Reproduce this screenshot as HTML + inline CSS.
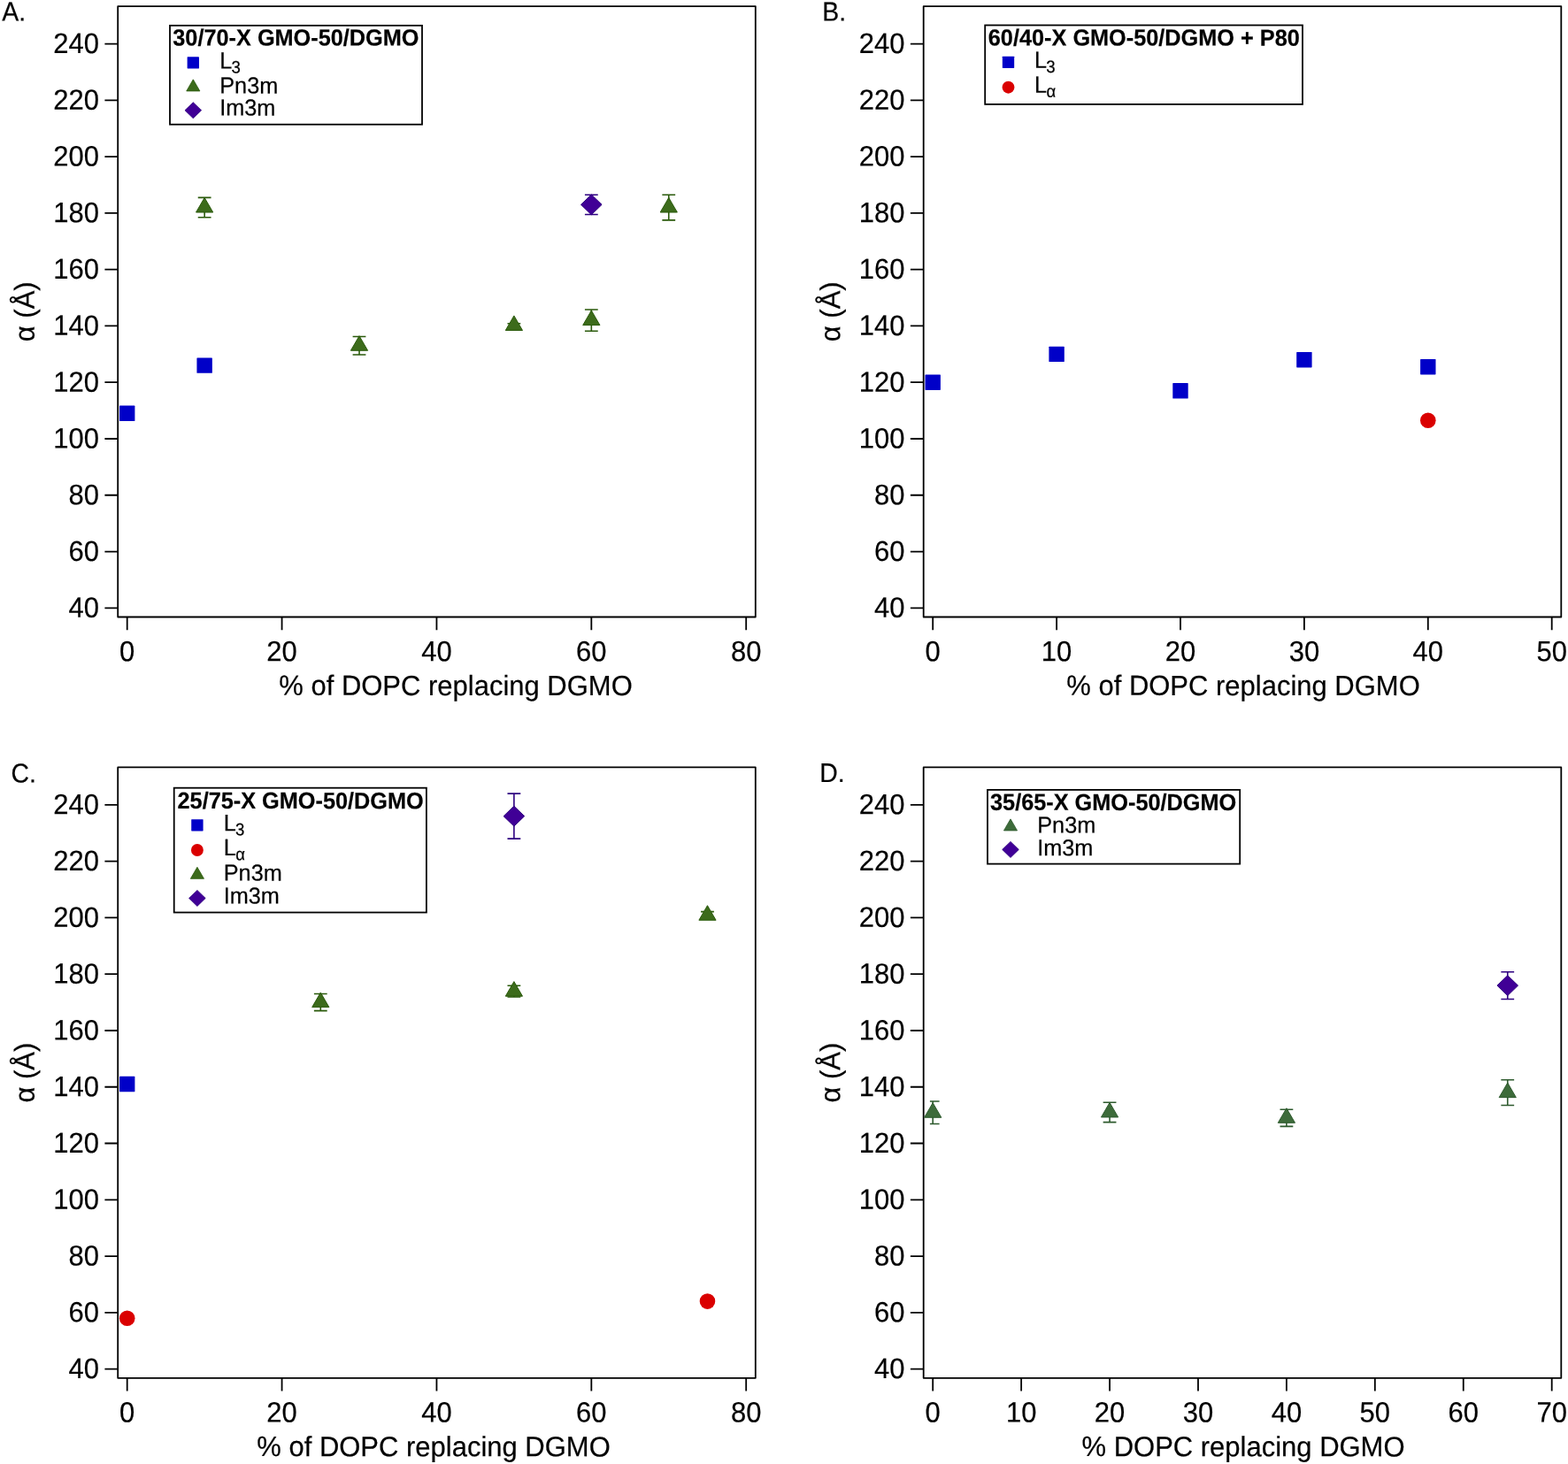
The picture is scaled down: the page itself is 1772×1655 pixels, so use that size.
<!DOCTYPE html>
<html lang="en">
<head>
<meta charset="utf-8">
<title>Lattice parameter vs. % DOPC replacing DGMO</title>
<style>
html,body{margin:0;padding:0;background:#fff;}
body{width:1772px;height:1655px;overflow:hidden;}
svg{display:block;}
text{font-family:'Liberation Sans', sans-serif;fill:#000;stroke:#000;stroke-width:0.2px;stroke-linejoin:round;}
</style>
</head>
<body>
<svg width="1772" height="1655" viewBox="0 0 1772 1655" role="img" aria-label="Lattice parameter versus percent DOPC replacing DGMO, panels A to D">
<rect width="1772" height="1655" fill="#fff"/>
<g id="panel-a">
<rect x="133.2" y="7.1" width="720.6" height="690.4" fill="none" stroke="#000" stroke-width="1.8" stroke-linejoin="round"/>
<path d="M133.2 687.3h-14.8M133.2 623.53h-14.8M133.2 559.76h-14.8M133.2 495.99h-14.8M133.2 432.22h-14.8M133.2 368.45h-14.8M133.2 304.68h-14.8M133.2 240.91h-14.8M133.2 177.14h-14.8M133.2 113.37h-14.8M133.2 49.6h-14.8M143.7 697.5v14.8M318.57 697.5v14.8M493.45 697.5v14.8M668.33 697.5v14.8M843.2 697.5v14.8" stroke="#000" stroke-width="1.8" fill="none"/>
<text transform="matrix(1 0.0008 0 1.04 112 60.05)" font-size="31" text-anchor="end">240</text>
<text transform="matrix(1 0.0008 0 1.04 112 123.82)" font-size="31" text-anchor="end">220</text>
<text transform="matrix(1 0.0008 0 1.04 112 187.59)" font-size="31" text-anchor="end">200</text>
<text transform="matrix(1 0.0008 0 1.04 112 251.36)" font-size="31" text-anchor="end">180</text>
<text transform="matrix(1 0.0008 0 1.04 112 315.13)" font-size="31" text-anchor="end">160</text>
<text transform="matrix(1 0.0008 0 1.04 112 378.9)" font-size="31" text-anchor="end">140</text>
<text transform="matrix(1 0.0008 0 1.04 112 442.67)" font-size="31" text-anchor="end">120</text>
<text transform="matrix(1 0.0008 0 1.04 112 506.44)" font-size="31" text-anchor="end">100</text>
<text transform="matrix(1 0.0008 0 1.04 112 570.21)" font-size="31" text-anchor="end">80</text>
<text transform="matrix(1 0.0008 0 1.04 112 633.98)" font-size="31" text-anchor="end">60</text>
<text transform="matrix(1 0.0008 0 1.04 112 697.75)" font-size="31" text-anchor="end">40</text>
<text transform="matrix(1 0.0008 0 1.04 143.7 747.2)" font-size="31" text-anchor="middle">0</text>
<text transform="matrix(1 0.0008 0 1.04 318.57 747.2)" font-size="31" text-anchor="middle">20</text>
<text transform="matrix(1 0.0008 0 1.04 493.45 747.2)" font-size="31" text-anchor="middle">40</text>
<text transform="matrix(1 0.0008 0 1.04 668.33 747.2)" font-size="31" text-anchor="middle">60</text>
<text transform="matrix(1 0.0008 0 1.04 843.2 747.2)" font-size="31" text-anchor="middle">80</text>
<text transform="matrix(1 0.0008 0 1.03 515 785.95)" font-size="31" text-anchor="middle">% of DOPC replacing DGMO</text>
<text transform="matrix(0.0008 -1 1.03 0.0008 38.7 352.3)" font-size="31" text-anchor="middle">α (Å)</text>
<text transform="matrix(1 0.0008 0 1.07 2.2 23.6)" font-size="28.4">A.</text>
<rect x="135" y="458.59" width="17.4" height="17.4" rx="0.6" fill="#0000C8"/>
<rect x="222.44" y="404.39" width="17.4" height="17.4" rx="0.6" fill="#0000C8"/>
<path d="M231.14 223.37V245.69M223.74 223.37H238.54M223.74 245.69H238.54" stroke="#2A5A0B" stroke-width="1.6" fill="none"/>
<polygon points="231.14,223.48 240.74,240.03 221.54,240.03" fill="#3C6B1B" stroke="#2A5A0B" stroke-width="1" stroke-linejoin="miter"/>
<path d="M406.01 380.57V400.97M398.61 380.57H413.41M398.61 400.97H413.41" stroke="#2A5A0B" stroke-width="1.6" fill="none"/>
<polygon points="406.01,379.72 415.61,396.27 396.41,396.27" fill="#3C6B1B" stroke="#2A5A0B" stroke-width="1" stroke-linejoin="miter"/>
<path d="M580.89 365.74V370.2M573.49 365.74H588.29M573.49 370.2H588.29" stroke="#2A5A0B" stroke-width="1.6" fill="none"/>
<polygon points="580.89,356.92 590.49,373.47 571.29,373.47" fill="#3C6B1B" stroke="#2A5A0B" stroke-width="1" stroke-linejoin="miter"/>
<path d="M668.33 349.96V374.19M660.93 349.96H675.73M660.93 374.19H675.73" stroke="#2A5A0B" stroke-width="1.6" fill="none"/>
<polygon points="668.33,351.02 677.93,367.57 658.73,367.57" fill="#3C6B1B" stroke="#2A5A0B" stroke-width="1" stroke-linejoin="miter"/>
<path d="M755.76 220.18V248.88M748.36 220.18H763.16M748.36 248.88H763.16" stroke="#2A5A0B" stroke-width="1.6" fill="none"/>
<polygon points="755.76,223.48 765.36,240.03 746.16,240.03" fill="#3C6B1B" stroke="#2A5A0B" stroke-width="1" stroke-linejoin="miter"/>
<path d="M668.33 220.18V242.5M660.93 220.18H675.73M660.93 242.5H675.73" stroke="#2E0080" stroke-width="1.6" fill="none"/>
<polygon points="668.33,219.94 680.12,231.34 668.33,242.74 656.53,231.34" fill="#400096" stroke="#2E0080" stroke-width="1" stroke-linejoin="miter"/>
<rect x="192" y="28.85" width="285" height="111.85" fill="#fff" stroke="#000" stroke-width="1.8"/>
<text transform="matrix(1 0.0008 0 1.04 195.3 51.4)" font-size="25.3" font-weight="bold">30/70-X GMO-50/DGMO</text>
<rect x="211.63" y="64.23" width="13.35" height="13.35" rx="0.47" fill="#0000C8"/>
<text transform="matrix(1 0.0008 0 1.045 248.2 77.4)" font-size="25.3">L<tspan font-size="18.6" dx="-0.8" dy="4.88">3</tspan></text>
<polygon points="218.3,89.87 225.88,102.94 210.72,102.94" fill="#3C6B1B" stroke="#2A5A0B" stroke-width="0.79" stroke-linejoin="miter"/>
<text transform="matrix(1 0.0008 0 1.03 248.2 105.6)" font-size="25.3">Pn3m</text>
<polygon points="218.3,115.69 227.62,124.7 218.3,133.71 208.98,124.7" fill="#400096" stroke="#2E0080" stroke-width="0.79" stroke-linejoin="miter"/>
<text transform="matrix(1 0.0008 0 1.03 248.2 130.6)" font-size="25.3">Im3m</text>
</g>
<g id="panel-b">
<rect x="1043.7" y="7.1" width="720.6" height="690.4" fill="none" stroke="#000" stroke-width="1.8" stroke-linejoin="round"/>
<path d="M1043.7 687.3h-14.8M1043.7 623.53h-14.8M1043.7 559.76h-14.8M1043.7 495.99h-14.8M1043.7 432.22h-14.8M1043.7 368.45h-14.8M1043.7 304.68h-14.8M1043.7 240.91h-14.8M1043.7 177.14h-14.8M1043.7 113.37h-14.8M1043.7 49.6h-14.8M1054.2 697.5v14.8M1194.1 697.5v14.8M1334 697.5v14.8M1473.9 697.5v14.8M1613.8 697.5v14.8M1753.7 697.5v14.8" stroke="#000" stroke-width="1.8" fill="none"/>
<text transform="matrix(1 0.0008 0 1.04 1022.5 60.05)" font-size="31" text-anchor="end">240</text>
<text transform="matrix(1 0.0008 0 1.04 1022.5 123.82)" font-size="31" text-anchor="end">220</text>
<text transform="matrix(1 0.0008 0 1.04 1022.5 187.59)" font-size="31" text-anchor="end">200</text>
<text transform="matrix(1 0.0008 0 1.04 1022.5 251.36)" font-size="31" text-anchor="end">180</text>
<text transform="matrix(1 0.0008 0 1.04 1022.5 315.13)" font-size="31" text-anchor="end">160</text>
<text transform="matrix(1 0.0008 0 1.04 1022.5 378.9)" font-size="31" text-anchor="end">140</text>
<text transform="matrix(1 0.0008 0 1.04 1022.5 442.67)" font-size="31" text-anchor="end">120</text>
<text transform="matrix(1 0.0008 0 1.04 1022.5 506.44)" font-size="31" text-anchor="end">100</text>
<text transform="matrix(1 0.0008 0 1.04 1022.5 570.21)" font-size="31" text-anchor="end">80</text>
<text transform="matrix(1 0.0008 0 1.04 1022.5 633.98)" font-size="31" text-anchor="end">60</text>
<text transform="matrix(1 0.0008 0 1.04 1022.5 697.75)" font-size="31" text-anchor="end">40</text>
<text transform="matrix(1 0.0008 0 1.04 1054.2 747.2)" font-size="31" text-anchor="middle">0</text>
<text transform="matrix(1 0.0008 0 1.04 1194.1 747.2)" font-size="31" text-anchor="middle">10</text>
<text transform="matrix(1 0.0008 0 1.04 1334 747.2)" font-size="31" text-anchor="middle">20</text>
<text transform="matrix(1 0.0008 0 1.04 1473.9 747.2)" font-size="31" text-anchor="middle">30</text>
<text transform="matrix(1 0.0008 0 1.04 1613.8 747.2)" font-size="31" text-anchor="middle">40</text>
<text transform="matrix(1 0.0008 0 1.04 1753.7 747.2)" font-size="31" text-anchor="middle">50</text>
<text transform="matrix(1 0.0008 0 1.03 1405 785.95)" font-size="31" text-anchor="middle">% of DOPC replacing DGMO</text>
<text transform="matrix(0.0008 -1 1.03 0.0008 949.2 352.3)" font-size="31" text-anchor="middle">α (Å)</text>
<text transform="matrix(1 0.0008 0 1.07 929.3 23.5)" font-size="28.4">B.</text>
<rect x="1045.5" y="423.52" width="17.4" height="17.4" rx="0.6" fill="#0000C8"/>
<rect x="1185.4" y="391.64" width="17.4" height="17.4" rx="0.6" fill="#0000C8"/>
<rect x="1325.3" y="433.09" width="17.4" height="17.4" rx="0.6" fill="#0000C8"/>
<rect x="1465.2" y="398.01" width="17.4" height="17.4" rx="0.6" fill="#0000C8"/>
<rect x="1605.1" y="405.98" width="17.4" height="17.4" rx="0.6" fill="#0000C8"/>
<circle cx="1613.8" cy="475.26" r="8.8" fill="#DA0000"/>
<rect x="1113.2" y="28.5" width="358.8" height="89.4" fill="#fff" stroke="#000" stroke-width="1.8"/>
<text transform="matrix(1 0.0008 0 1.04 1116.8 51.4)" font-size="25.3" font-weight="bold">60/40-X GMO-50/DGMO + P80</text>
<rect x="1132.83" y="63.73" width="13.35" height="13.35" rx="0.47" fill="#0000C8"/>
<text transform="matrix(1 0.0008 0 1.045 1169 76.8)" font-size="25.3">L<tspan font-size="18.6" dx="-0.8" dy="4.88">3</tspan></text>
<circle cx="1139.5" cy="98.7" r="6.95" fill="#DA0000"/>
<text transform="matrix(1 0.0008 0 1.045 1169 104.7)" font-size="25.3">L<tspan font-size="18.6" dx="-0.6" dy="4.88">α</tspan></text>
</g>
<g id="panel-c">
<rect x="133.2" y="867.4" width="720.6" height="690.4" fill="none" stroke="#000" stroke-width="1.8" stroke-linejoin="round"/>
<path d="M133.2 1547.6h-14.8M133.2 1483.83h-14.8M133.2 1420.06h-14.8M133.2 1356.29h-14.8M133.2 1292.52h-14.8M133.2 1228.75h-14.8M133.2 1164.98h-14.8M133.2 1101.21h-14.8M133.2 1037.44h-14.8M133.2 973.67h-14.8M133.2 909.9h-14.8M143.7 1557.8v14.8M318.57 1557.8v14.8M493.45 1557.8v14.8M668.33 1557.8v14.8M843.2 1557.8v14.8" stroke="#000" stroke-width="1.8" fill="none"/>
<text transform="matrix(1 0.0008 0 1.04 112 920.35)" font-size="31" text-anchor="end">240</text>
<text transform="matrix(1 0.0008 0 1.04 112 984.12)" font-size="31" text-anchor="end">220</text>
<text transform="matrix(1 0.0008 0 1.04 112 1047.89)" font-size="31" text-anchor="end">200</text>
<text transform="matrix(1 0.0008 0 1.04 112 1111.66)" font-size="31" text-anchor="end">180</text>
<text transform="matrix(1 0.0008 0 1.04 112 1175.43)" font-size="31" text-anchor="end">160</text>
<text transform="matrix(1 0.0008 0 1.04 112 1239.2)" font-size="31" text-anchor="end">140</text>
<text transform="matrix(1 0.0008 0 1.04 112 1302.97)" font-size="31" text-anchor="end">120</text>
<text transform="matrix(1 0.0008 0 1.04 112 1366.74)" font-size="31" text-anchor="end">100</text>
<text transform="matrix(1 0.0008 0 1.04 112 1430.51)" font-size="31" text-anchor="end">80</text>
<text transform="matrix(1 0.0008 0 1.04 112 1494.28)" font-size="31" text-anchor="end">60</text>
<text transform="matrix(1 0.0008 0 1.04 112 1558.05)" font-size="31" text-anchor="end">40</text>
<text transform="matrix(1 0.0008 0 1.04 143.7 1607.5)" font-size="31" text-anchor="middle">0</text>
<text transform="matrix(1 0.0008 0 1.04 318.57 1607.5)" font-size="31" text-anchor="middle">20</text>
<text transform="matrix(1 0.0008 0 1.04 493.45 1607.5)" font-size="31" text-anchor="middle">40</text>
<text transform="matrix(1 0.0008 0 1.04 668.33 1607.5)" font-size="31" text-anchor="middle">60</text>
<text transform="matrix(1 0.0008 0 1.04 843.2 1607.5)" font-size="31" text-anchor="middle">80</text>
<text transform="matrix(1 0.0008 0 1.03 490 1646.25)" font-size="31" text-anchor="middle">% of DOPC replacing DGMO</text>
<text transform="matrix(0.0008 -1 1.03 0.0008 38.7 1212.6)" font-size="31" text-anchor="middle">α (Å)</text>
<text transform="matrix(1 0.0008 0 1.07 12.6 884.4)" font-size="28.4">C.</text>
<rect x="135" y="1216.86" width="17.4" height="17.4" rx="0.6" fill="#0000C8"/>
<circle cx="143.7" cy="1490.21" r="8.8" fill="#DA0000"/>
<circle cx="799.48" cy="1471.08" r="8.8" fill="#DA0000"/>
<path d="M362.29 1123.53V1142.66M354.89 1123.53H369.69M354.89 1142.66H369.69" stroke="#2A5A0B" stroke-width="1.6" fill="none"/>
<polygon points="362.29,1122.05 371.89,1138.6 352.69,1138.6" fill="#3C6B1B" stroke="#2A5A0B" stroke-width="1" stroke-linejoin="miter"/>
<path d="M580.89 1114.28V1127.04M573.49 1114.28H588.29M573.49 1127.04H588.29" stroke="#2A5A0B" stroke-width="1.6" fill="none"/>
<polygon points="580.89,1109.61 590.49,1126.16 571.29,1126.16" fill="#3C6B1B" stroke="#2A5A0B" stroke-width="1" stroke-linejoin="miter"/>
<path d="M799.48 1030.58V1038.87M792.08 1030.58H806.88M792.08 1038.87H806.88" stroke="#2A5A0B" stroke-width="1.6" fill="none"/>
<polygon points="799.48,1023.68 809.08,1040.23 789.88,1040.23" fill="#3C6B1B" stroke="#2A5A0B" stroke-width="1" stroke-linejoin="miter"/>
<path d="M580.89 897.15V948.16M573.49 897.15H588.29M573.49 948.16H588.29" stroke="#2E0080" stroke-width="1.6" fill="none"/>
<polygon points="580.89,911.25 592.69,922.65 580.89,934.05 569.09,922.65" fill="#400096" stroke="#2E0080" stroke-width="1" stroke-linejoin="miter"/>
<rect x="196.7" y="890.7" width="285.2" height="140.8" fill="#fff" stroke="#000" stroke-width="1.8"/>
<text transform="matrix(1 0.0008 0 1.04 200.5 914)" font-size="25.3" font-weight="bold">25/75-X GMO-50/DGMO</text>
<rect x="216.23" y="926.13" width="13.35" height="13.35" rx="0.47" fill="#0000C8"/>
<text transform="matrix(1 0.0008 0 1.045 252.7 939.2)" font-size="25.3">L<tspan font-size="18.6" dx="-0.8" dy="4.88">3</tspan></text>
<circle cx="222.9" cy="961" r="6.95" fill="#DA0000"/>
<text transform="matrix(1 0.0008 0 1.045 252.7 967.1)" font-size="25.3">L<tspan font-size="18.6" dx="-0.6" dy="4.88">α</tspan></text>
<polygon points="222.9,980.27 230.48,993.35 215.32,993.35" fill="#3C6B1B" stroke="#2A5A0B" stroke-width="0.79" stroke-linejoin="miter"/>
<text transform="matrix(1 0.0008 0 1.03 252.7 995.6)" font-size="25.3">Pn3m</text>
<polygon points="222.9,1006.39 232.22,1015.4 222.9,1024.41 213.58,1015.4" fill="#400096" stroke="#2E0080" stroke-width="0.79" stroke-linejoin="miter"/>
<text transform="matrix(1 0.0008 0 1.03 252.7 1021.5)" font-size="25.3">Im3m</text>
</g>
<g id="panel-d">
<rect x="1043.7" y="867.4" width="720.6" height="690.4" fill="none" stroke="#000" stroke-width="1.8" stroke-linejoin="round"/>
<path d="M1043.7 1547.6h-14.8M1043.7 1483.83h-14.8M1043.7 1420.06h-14.8M1043.7 1356.29h-14.8M1043.7 1292.52h-14.8M1043.7 1228.75h-14.8M1043.7 1164.98h-14.8M1043.7 1101.21h-14.8M1043.7 1037.44h-14.8M1043.7 973.67h-14.8M1043.7 909.9h-14.8M1054.2 1557.8v14.8M1154.13 1557.8v14.8M1254.06 1557.8v14.8M1353.99 1557.8v14.8M1453.91 1557.8v14.8M1553.84 1557.8v14.8M1653.77 1557.8v14.8M1753.7 1557.8v14.8" stroke="#000" stroke-width="1.8" fill="none"/>
<text transform="matrix(1 0.0008 0 1.04 1022.5 920.35)" font-size="31" text-anchor="end">240</text>
<text transform="matrix(1 0.0008 0 1.04 1022.5 984.12)" font-size="31" text-anchor="end">220</text>
<text transform="matrix(1 0.0008 0 1.04 1022.5 1047.89)" font-size="31" text-anchor="end">200</text>
<text transform="matrix(1 0.0008 0 1.04 1022.5 1111.66)" font-size="31" text-anchor="end">180</text>
<text transform="matrix(1 0.0008 0 1.04 1022.5 1175.43)" font-size="31" text-anchor="end">160</text>
<text transform="matrix(1 0.0008 0 1.04 1022.5 1239.2)" font-size="31" text-anchor="end">140</text>
<text transform="matrix(1 0.0008 0 1.04 1022.5 1302.97)" font-size="31" text-anchor="end">120</text>
<text transform="matrix(1 0.0008 0 1.04 1022.5 1366.74)" font-size="31" text-anchor="end">100</text>
<text transform="matrix(1 0.0008 0 1.04 1022.5 1430.51)" font-size="31" text-anchor="end">80</text>
<text transform="matrix(1 0.0008 0 1.04 1022.5 1494.28)" font-size="31" text-anchor="end">60</text>
<text transform="matrix(1 0.0008 0 1.04 1022.5 1558.05)" font-size="31" text-anchor="end">40</text>
<text transform="matrix(1 0.0008 0 1.04 1054.2 1607.5)" font-size="31" text-anchor="middle">0</text>
<text transform="matrix(1 0.0008 0 1.04 1154.13 1607.5)" font-size="31" text-anchor="middle">10</text>
<text transform="matrix(1 0.0008 0 1.04 1254.06 1607.5)" font-size="31" text-anchor="middle">20</text>
<text transform="matrix(1 0.0008 0 1.04 1353.99 1607.5)" font-size="31" text-anchor="middle">30</text>
<text transform="matrix(1 0.0008 0 1.04 1453.91 1607.5)" font-size="31" text-anchor="middle">40</text>
<text transform="matrix(1 0.0008 0 1.04 1553.84 1607.5)" font-size="31" text-anchor="middle">50</text>
<text transform="matrix(1 0.0008 0 1.04 1653.77 1607.5)" font-size="31" text-anchor="middle">60</text>
<text transform="matrix(1 0.0008 0 1.04 1753.7 1607.5)" font-size="31" text-anchor="middle">70</text>
<text transform="matrix(1 0.0008 0 1.03 1405 1646.25)" font-size="31" text-anchor="middle">% DOPC replacing DGMO</text>
<text transform="matrix(0.0008 -1 1.03 0.0008 949.2 1212.6)" font-size="31" text-anchor="middle">α (Å)</text>
<text transform="matrix(1 0.0008 0 1.07 926.2 884)" font-size="28.4">D.</text>
<path d="M1054.2 1245.01V1270.52M1050.9 1245.01H1061.6M1050.9 1270.52H1061.6" stroke="#2D5A2D" stroke-width="1.6" fill="none"/>
<polygon points="1054.2,1246.72 1063.8,1263.27 1044.6,1263.27" fill="#3D6B3A" stroke="#2D5A2D" stroke-width="1" stroke-linejoin="miter"/>
<path d="M1254.06 1246.29V1268.61M1246.66 1246.29H1261.46M1246.66 1268.61H1261.46" stroke="#2D5A2D" stroke-width="1.6" fill="none"/>
<polygon points="1254.06,1246.4 1263.66,1262.95 1244.46,1262.95" fill="#3D6B3A" stroke="#2D5A2D" stroke-width="1" stroke-linejoin="miter"/>
<path d="M1453.91 1254.26V1273.39M1446.51 1254.26H1461.31M1446.51 1273.39H1461.31" stroke="#2D5A2D" stroke-width="1.6" fill="none"/>
<polygon points="1453.91,1252.77 1463.51,1269.32 1444.31,1269.32" fill="#3D6B3A" stroke="#2D5A2D" stroke-width="1" stroke-linejoin="miter"/>
<path d="M1703.74 1220.78V1249.48M1696.34 1220.78H1711.14M1696.34 1249.48H1711.14" stroke="#2D5A2D" stroke-width="1.6" fill="none"/>
<polygon points="1703.74,1224.08 1713.34,1240.63 1694.14,1240.63" fill="#3D6B3A" stroke="#2D5A2D" stroke-width="1" stroke-linejoin="miter"/>
<path d="M1703.74 1098.82V1129.43M1696.34 1098.82H1711.14M1696.34 1129.43H1711.14" stroke="#2E0080" stroke-width="1.6" fill="none"/>
<polygon points="1703.74,1102.72 1715.54,1114.12 1703.74,1125.52 1691.94,1114.12" fill="#400096" stroke="#2E0080" stroke-width="1" stroke-linejoin="miter"/>
<rect x="1116" y="892.9" width="285.2" height="83.7" fill="#fff" stroke="#000" stroke-width="1.8"/>
<text transform="matrix(1 0.0008 0 1.04 1119 915.8)" font-size="25.3" font-weight="bold">35/65-X GMO-50/DGMO</text>
<polygon points="1142,925.87 1149.58,938.95 1134.42,938.95" fill="#3D6B3A" stroke="#2D5A2D" stroke-width="0.79" stroke-linejoin="miter"/>
<text transform="matrix(1 0.0008 0 1.03 1172.2 941.4)" font-size="25.3">Pn3m</text>
<polygon points="1142,951.39 1151.32,960.4 1142,969.41 1132.68,960.4" fill="#400096" stroke="#2E0080" stroke-width="0.79" stroke-linejoin="miter"/>
<text transform="matrix(1 0.0008 0 1.03 1172.2 967.2)" font-size="25.3">Im3m</text>
</g>
</svg>
</body>
</html>
